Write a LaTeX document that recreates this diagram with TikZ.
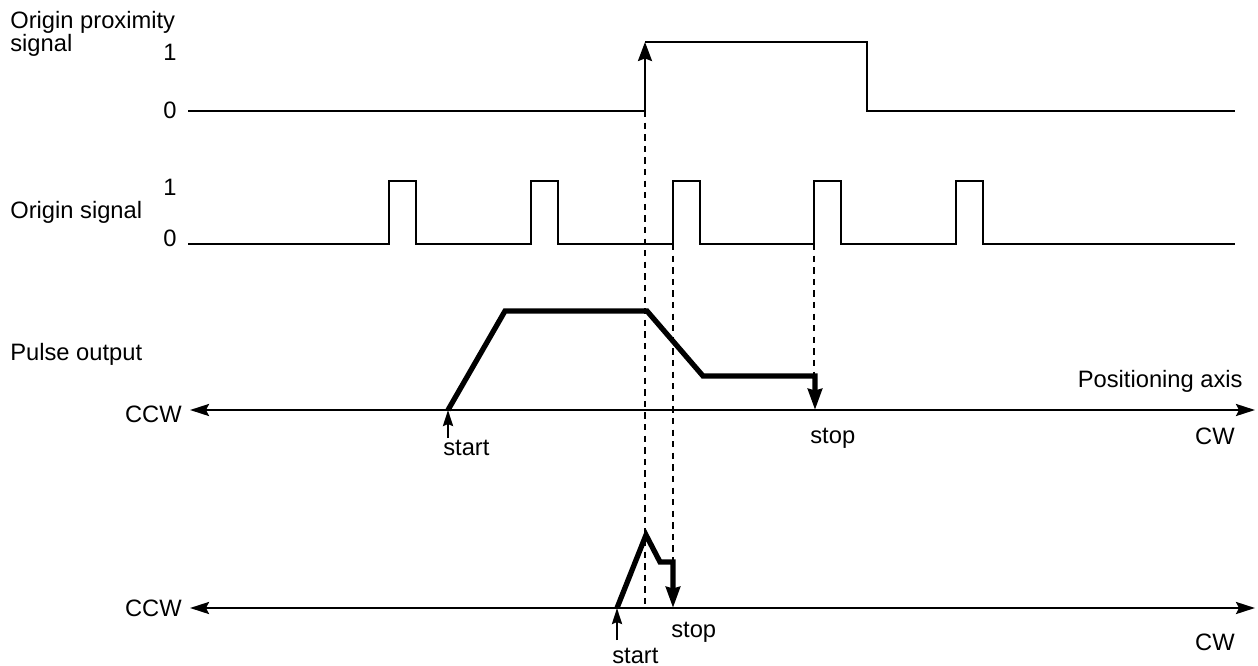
\documentclass[tikz,border=0pt]{standalone}
\usepackage{fontspec}
\setmainfont{Liberation Sans}
\usetikzlibrary{arrows.meta}
\tikzset{
  sig-line/.style={line width=1.4pt,line join=miter},
  pulse-out/.style={line width=3pt,line join=miter},
  axis-line/.style={line width=1.4pt,
    {Stealth[length=3.8mm,width=2.4mm,inset=0.6mm]}-{Stealth[length=3.8mm,width=2.4mm,inset=0.6mm]}},
  guide/.style={line width=1.4pt,dash pattern=on 3.6pt off 3pt},
  arrow-edge/.style={-{Stealth[length=3.8mm,width=2.8mm,inset=0.5mm]}},
  arrow-stop/.style={-{Stealth[length=4.2mm,width=2.8mm,inset=0.3mm]}},
  arrow-start/.style={-{Stealth[length=3.2mm,width=2mm,inset=0.4mm]},line width=1.4pt},
  lbl/.style={inner sep=0pt,font=\fontsize{13.5}{13}\selectfont},
}
\begin{document}
\begin{tikzpicture}[x=0.02cm,y=-0.02cm]
  \useasboundingbox (0,0) rectangle (1258,666);
  % signal labels
  \node[lbl,anchor=north west,align=left] (lbl-prox) at (10,11) {Origin proximity\\signal};
  \node[lbl] (prox-1) at (170,52) {1};
  \node[lbl] (prox-0) at (170,110) {0};
  \node[lbl] (org-1) at (170,187) {1};
  \node[lbl,anchor=base west] (lbl-org) at (10,218) {Origin signal};
  \node[lbl] (org-0) at (170,238) {0};
  \node[lbl,anchor=base west] (lbl-pulse) at (10,360) {Pulse output};
  % key instants
  \coordinate (prox-low) at (188,111);
  \coordinate (prox-rise) at (645,111);
  \coordinate (prox-top) at (645,42);
  \coordinate (org-rise) at (673,244);
  \coordinate (org-stop) at (814,244);
  \coordinate (ax1-l) at (190,410);
  \coordinate (ax1-r) at (1255,410);
  \coordinate (ax2-l) at (190,608);
  \coordinate (ax2-r) at (1255,608);
  \coordinate (run1-start) at (448,410);
  \coordinate (run1-stop) at (815,410);
  \coordinate (run2-start) at (617,608);
  \coordinate (run2-peak) at (646,535);
  \coordinate (run2-stop) at (673,608);
  % origin proximity signal
  \draw[sig-line,arrow-edge] (prox-low) -- (prox-rise) -- (prox-top);
  \draw[sig-line] (prox-top) -- (867,42) -- (867,111) -- (1235,111);
  % origin signal
  \draw[sig-line] (188,244) foreach \x in {389,531,673,814,956} {
      -- (\x,244) -- (\x,181) -- ({\x+27},181) -- ({\x+27},244) } -- (1235,244);
  % guides
  \draw[guide] (prox-rise) -- (prox-rise |- ax2-l);
  \draw[guide] (org-rise) -- (673,562);
  \draw[guide] (org-stop) -- (814,376);
  % first run
  \draw[axis-line] (ax1-l) -- (ax1-r);
  \draw[pulse-out,arrow-stop] (run1-start) -- (505,311) -- (647,311) -- (703,376)
      -- (815,376) -- (run1-stop);
  \draw[arrow-start] (448,438) -- (run1-start);
  \node[lbl,anchor=base east] (ccw-1) at (182,422) {CCW};
  \node[lbl,anchor=base east] (cw-1) at (1235,444) {CW};
  \node[lbl,anchor=base east] (lbl-axis) at (1243,387) {Positioning axis};
  \node[lbl,anchor=base west] (start-1) at (443,455) {start};
  \node[lbl,anchor=base west] (stop-1) at (810,443) {stop};
  % second run
  \draw[axis-line] (ax2-l) -- (ax2-r);
  \draw[pulse-out,arrow-stop] (run2-start) -- (run2-peak) -- (660,562) -- (673,562)
      -- (run2-stop);
  \draw[arrow-start] (617,640) -- (run2-start);
  \node[lbl,anchor=base east] (ccw-2) at (182,616) {CCW};
  \node[lbl,anchor=base east] (cw-2) at (1235,650) {CW};
  \node[lbl,anchor=base west] (start-2) at (612,663) {start};
  \node[lbl,anchor=base west] (stop-2) at (671,637) {stop};
\end{tikzpicture}
\end{document}
